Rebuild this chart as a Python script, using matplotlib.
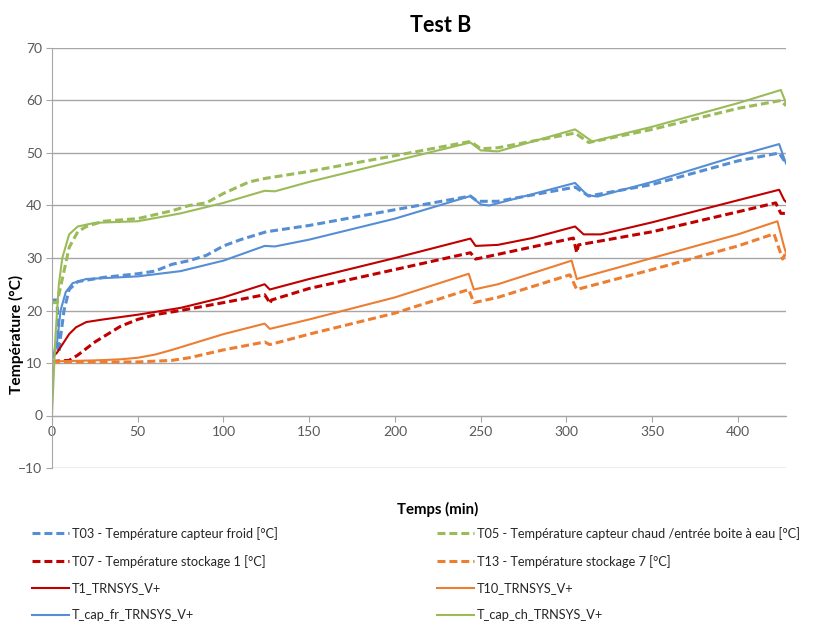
import numpy as np
import matplotlib
matplotlib.use("Agg")
import matplotlib.pyplot as plt

plt.rcParams['font.family'] = ['Lato', 'DejaVu Sans']

t_t03 = [0, 3, 3.5, 4, 5, 7, 10, 15, 30, 50, 60, 70, 80, 90, 100, 110, 125, 150, 200, 244, 248, 260, 305, 313, 350, 400, 424, 428]
v_t03 = [22, 22, 15, 12, 15, 20, 24, 25.5, 26.3, 27, 27.5, 28.8, 29.5, 30.5, 32.3, 33.5, 35, 36.2, 39.2, 41.8, 40.8, 40.8, 43.5, 41.8, 44, 48.5, 50, 48]

t_t05 = [0, 3, 4, 6, 10, 15, 20, 30, 50, 70, 80, 90, 100, 115, 125, 150, 200, 244, 250, 260, 305, 313, 350, 400, 425, 428]
v_t05 = [21.5, 21.5, 23, 26, 32, 35, 36, 37, 37.5, 39, 40, 40.5, 42.3, 44.5, 45.2, 46.5, 49.5, 52.2, 50.8, 51, 53.8, 52, 54.5, 58.5, 60, 59]

t_t07 = [0, 10, 15, 25, 40, 50, 60, 75, 100, 124, 126, 127, 128, 150, 200, 244, 247, 250, 300, 304, 306, 307, 350, 400, 422, 425, 428]
v_t07 = [10.3, 10.5, 11.5, 14, 17, 18.3, 19.2, 20, 21.5, 23, 22, 21.3, 22, 24.2, 27.8, 31, 29.8, 30, 33.5, 33.8, 31, 32.5, 35, 38.8, 40.5, 38.5, 38.5]

t_t13 = [0, 50, 70, 80, 100, 124, 127, 150, 200, 243, 246, 260, 302, 306, 350, 400, 421, 426, 428]
v_t13 = [10.2, 10.2, 10.5, 11, 12.5, 14, 13.5, 15.5, 19.5, 24, 21.5, 22.5, 26.8, 24, 27.8, 32.3, 34.6, 29.8, 31]

t_t1 = [0, 3, 6, 10, 14, 20, 30, 50, 75, 100, 124, 127, 150, 200, 244, 247, 260, 280, 305, 310, 320, 350, 400, 424, 427, 428]
v_t1 = [11, 12, 13.5, 15.5, 16.8, 17.8, 18.3, 19.2, 20.5, 22.5, 25, 24, 26, 30, 33.7, 32.3, 32.5, 33.8, 36, 34.5, 34.5, 36.8, 41, 43, 41, 40.7]

t_t10 = [0, 25, 40, 50, 60, 70, 80, 100, 124, 127, 150, 200, 243, 246, 260, 303, 306, 350, 400, 423, 427, 428]
v_t10 = [10.3, 10.5, 10.7, 11, 11.6, 12.5, 13.5, 15.5, 17.5, 16.5, 18.3, 22.5, 27, 24, 25, 29.5, 26, 30, 34.5, 37, 32, 31]

t_capfr = [0, 1, 3, 5, 8, 12, 20, 50, 75, 100, 124, 130, 150, 200, 244, 250, 255, 305, 312, 318, 350, 400, 424, 428]
v_capfr = [13, 11, 14, 20, 23.5, 25.2, 26, 26.5, 27.5, 29.5, 32.3, 32.2, 33.5, 37.5, 41.8, 40.2, 40, 44.3, 42, 41.7, 44.5, 49.5, 51.7, 48]

t_capch = [0, 2, 4, 6, 10, 15, 25, 50, 75, 100, 124, 130, 150, 200, 244, 250, 260, 305, 315, 350, 400, 425, 428]
v_capch = [0, 15, 25, 30, 34.5, 36, 36.7, 37, 38.5, 40.5, 42.8, 42.7, 44.5, 48.5, 52, 50.5, 50.3, 54.5, 52.2, 55, 59.5, 62, 59.5]

labels = [
    "T03 - Température capteur froid [°C]",
    "T05 - Température capteur chaud /entrée boite à eau [°C]",
    "T07 - Température stockage 1 [°C]",
    "T13 - Température stockage 7 [°C]",
    "T1_TRNSYS_V+",
    "T10_TRNSYS_V+",
    "T_cap_fr_TRNSYS_V+",
    "T_cap_ch_TRNSYS_V+",
]

BLUE = "#558ED5"
GREEN = "#9BBB59"
RED = "#C00000"
ORANGE = "#ED7D31"
GRID = "#A6A6A6"
TXT = "#595959"

fig = plt.figure(figsize=(8.16, 6.26), dpi=100)
ax = fig.add_axes([52 / 816, 158 / 626, 734 / 816, 420 / 626])

dash = dict(linestyle=(0, (2.6, 1.3)), linewidth=2.2)
solid = dict(linestyle="-", linewidth=1.5)

series = [
    (t_t03, v_t03, BLUE, dash),
    (t_t05, v_t05, GREEN, dash),
    (t_t07, v_t07, RED, dash),
    (t_t13, v_t13, ORANGE, dash),
    (t_t1, v_t1, RED, solid),
    (t_t10, v_t10, ORANGE, solid),
    (t_capfr, v_capfr, BLUE, solid),
    (t_capch, v_capch, GREEN, solid),
]
handles = []
for (t, v, c, st), lab in zip(series, labels):
    ln, = ax.plot(t, v, color=c, label=lab, **st)
    handles.append(ln)

ax.set_xlim(0, 428)
ax.set_ylim(-10, 70)
ax.set_yticks(np.arange(-10, 71, 10))
ax.set_xticks(np.arange(0, 401, 50))
ax.grid(axis="y", color=GRID, linewidth=1)
ax.set_axisbelow(True)

for s in ["top", "right"]:
    ax.spines[s].set_visible(False)
ax.spines["bottom"].set_position(("data", 0))
ax.spines["bottom"].set_color(GRID)
ax.spines["left"].set_color(GRID)
ax.tick_params(axis="x", colors=GRID, labelcolor=TXT, labelsize=10, length=4, direction="out")
ax.tick_params(axis="y", colors=GRID, labelcolor=TXT, labelsize=10, length=4, pad=3)

fig.text(441 / 816, 1 - 25 / 626, "Test B", ha="center", va="center", fontsize=15.5, fontweight="bold")
fig.text(16 / 816, 1 - 334 / 626, "Température (°C)", rotation=90, ha="center", va="center",
         fontsize=11.2, fontweight="bold")
fig.text(438 / 816, 1 - 509 / 626, "Temps (min)", ha="center", va="center", fontsize=10.8, fontweight="bold")

# two legend columns placed like the reference
col1 = [handles[0], handles[2], handles[4], handles[6]]
col2 = [handles[1], handles[3], handles[5], handles[7]]
common = dict(loc="upper left", frameon=False, fontsize=9.2, handlelength=2.9, handletextpad=0.2,
              labelspacing=1.15, borderaxespad=0, borderpad=0)
leg1 = fig.legend(col1, [h.get_label() for h in col1], bbox_to_anchor=(32 / 816, 1 - 527 / 626), **common)
leg2 = fig.legend(col2, [h.get_label() for h in col2], bbox_to_anchor=(437 / 816, 1 - 527 / 626), **common)
for lg in (leg1, leg2):
    for tx in lg.get_texts():
        tx.set_color("#262626")

fig.savefig("out.png", dpi=100)
